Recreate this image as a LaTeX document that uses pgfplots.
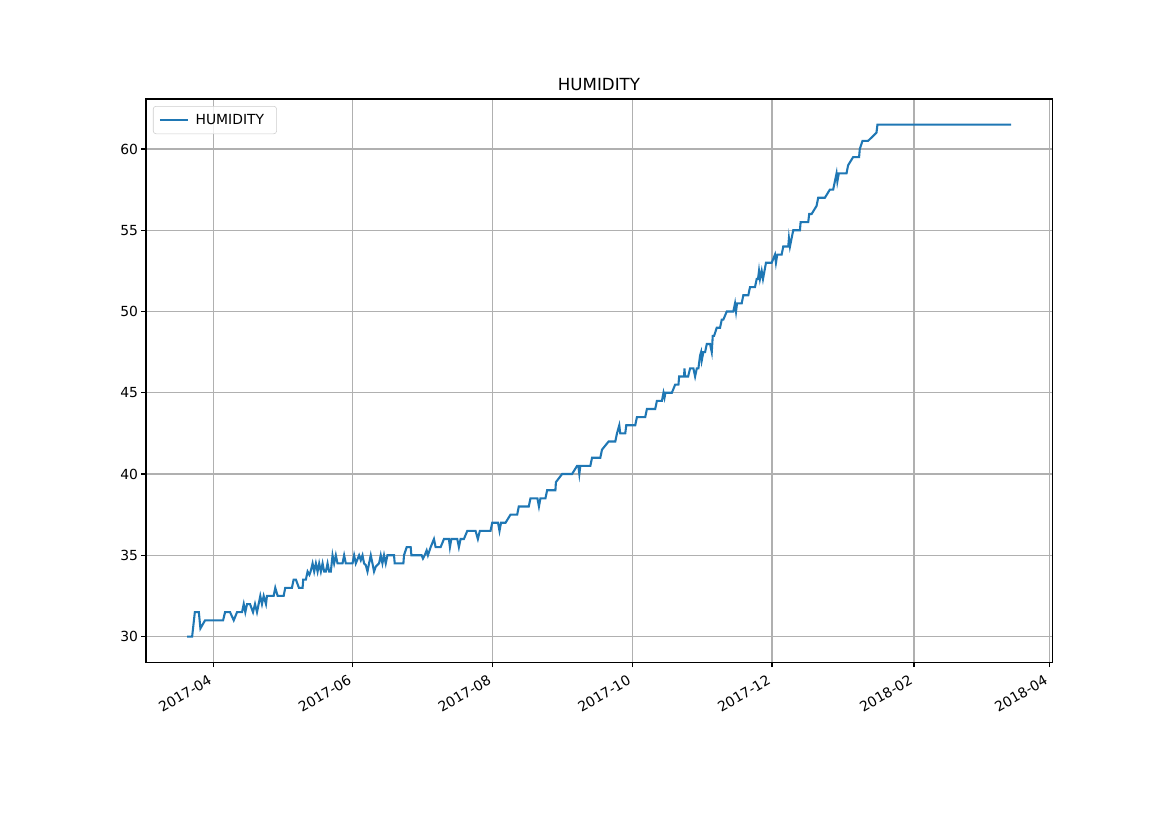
\documentclass[border=0pt]{standalone}
\usepackage{fontspec}
\setmainfont{DejaVu Sans}
\usepackage{pgfplots}
\pgfplotsset{compat=1.18}
\definecolor{tabblue}{HTML}{1F77B4}
\begin{document}
\begin{tikzpicture}
\begin{axis}[
  name=ax,
  scale only axis,
  width=652.3pt, height=405.4pt,
  xmin=60.7, xmax=456.3,
  ymin=28.425, ymax=63.075,
  xtick={90,151,212,273,334,396,455},
  xticklabels={2017-04,2017-06,2017-08,2017-10,2017-12,2018-02,2018-04},
  ytick={30,35,40,45,50,55,60},
  /pgf/number format/assume math mode=true,
  tick label style={font=\fontsize{10}{12}\selectfont},
  xticklabel style={rotate=30, anchor=north east, inner sep=1pt, xshift=-5pt, yshift=-1.5pt},
  yticklabel style={inner sep=1pt, xshift=-1pt},
  tick align=outside,
  tickwidth=3.5pt,
  major tick style={black, line width=0.8pt},
  xtick pos=bottom, ytick pos=left,
  grid=major,
  major grid style={color=black!31, line width=0.8pt},
  axis line style={black, line width=0.8pt},
  title={HUMIDITY},
  title style={font=\fontsize{12}{14}\selectfont, at={(0.5,1)}, anchor=base, inner sep=0pt, yshift=0pt},
  legend style={at={(0.0077,0.9876)}, anchor=north west, draw=black!20, rounded corners=2pt, fill=white, fill opacity=0.8, text opacity=1, font=\fontsize{10}{12}\selectfont, inner xsep=4pt, inner ysep=3.5pt, nodes={inner xsep=5pt}},
  legend cell align=left,
  legend image code/.code={\draw[#1, line width=1.5pt] (0pt,0pt) -- (20pt,0pt);},
]
\addplot[tabblue, line width=1.5pt] table {
x y
78.67 30
80.85 30
82.03 31.5
83.77 31.5
84.47 30.5
86.51 31
94.36 31
95.23 31.5
97.41 31.5
99.02 31
100.46 31.5
102.64 31.5
103.38 32
104.07 31.5
104.81 32
106.12 32
107.43 31.5
108.30 32
109.17 31.5
110.61 32.5
111.35 32
112.09 32.5
113.09 32
113.53 32.5
116.45 32.5
117.15 33
118.19 32.5
120.81 32.5
121.50 33
124.42 33
125.16 33.5
126.17 33.5
127.47 33
129.08 33
129.35 33.5
130.5 33.5
131.26 34
132.05 33.8
132.57 34
133.44 34.5
134.14 34
134.88 34.5
135.62 34
136.32 34.5
137.06 34
137.80 34.5
138.50 34
139.24 34
139.98 34.5
140.67 34
141.41 34
142.15 35
142.85 34.5
143.59 35
144.33 34.5
146.51 34.5
147.21 35
147.95 34.5
150.87 34.5
151.57 35
152.31 34.5
153.75 35
154.49 34.7
155.23 35
155.92 34.5
156.66 34.4
157.41 34
158.10 34.5
158.84 35
159.58 34.5
160.28 34
161.02 34.3
162.46 34.5
163.20 35
163.94 34.5
164.64 35
165.38 34.5
166.12 35
169.00 35
169.30 34.5
173.09 34.5
173.35 35
174.53 35.5
176.27 35.5
176.58 35
181.07 35
181.63 34.8
182.37 35
183.24 35.3
183.81 35
184.99 35.5
186.43 36
187.17 35.5
189.35 35.5
190.79 36
192.97 36
193.40 35.5
194.01 36
196.62 36
197.32 35.5
198.06 36
199.50 36
200.98 36.5
204.60 36.5
205.60 36
206.47 36.5
211.13 36.5
211.87 37
214.40 37
215.05 36.5
215.71 37
217.67 37
219.85 37.5
222.77 37.5
223.47 38
227.82 38
228.56 38.5
231.61 38.5
232.27 38
232.92 38.5
235.10 38.5
235.84 39
239.46 39
239.68 39.5
240.76 39.7
242.37 40
246.73 40
248.91 40.5
249.48 40.5
249.91 40
250.35 40.5
254.71 40.5
255.45 41
259.06 41
259.80 41.5
261.24 41.75
262.68 42
265.60 42
266.34 42.5
267.34 43
267.78 42.5
269.96 42.5
270.39 43
274.31 43
275.05 43.5
278.67 43.5
279.41 44
283.03 44
283.77 44.5
285.95 44.5
286.65 45
287.1 44.7
287.5 45
290.30 45
291.74 45.5
293.18 45.5
293.48 46
295.66 46
295.79 46.5
296.10 46
297.40 46
298.27 46.5
299.71 46.5
300.45 46
301.19 46.5
301.89 46.5
302.63 47.3
303.06 47.5
303.37 47
304.06 47.5
304.81 47.5
305.55 48
306.24 48
306.98 48
307.72 47.5
308.16 48.5
308.73 48.5
309.90 49
311.34 49
312.09 49.5
312.78 49.5
314.26 50
317.14 50
317.88 50.5
318.32 50
318.75 50.5
320.80 50.5
321.50 51
323.68 51
324.42 51.5
326.60 51.5
327.34 52
327.91 52
328.35 52.5
328.78 52
329.52 52.5
330.09 52
331.40 53
333.88 53
335.32 53.5
335.75 53
336.32 53.5
338.24 53.5
338.94 54
341.12 54
341.42 54.5
341.86 54
343.30 55
346.22 55
346.52 55.5
349.84 55.5
350.27 56
351.32 56
353.49 56.5
354.19 57
357.11 57
359.29 57.5
360.73 57.5
361.47 58
362.21 58.5
362.56 58
363.20 58.5
366.56 58.5
367.26 59
369.44 59.5
372.05 59.5
372.35 60
373.53 60.5
375.97 60.5
379.63 61
380.07 61.5
438.45 61.5
};
\addlegendentry{HUMIDITY}
\end{axis}
\path ([xshift=-105.1pt,yshift=-118.8pt]ax.south west) rectangle ([xshift=84.2pt,yshift=71.3pt]ax.north east);
\end{tikzpicture}
\end{document}
